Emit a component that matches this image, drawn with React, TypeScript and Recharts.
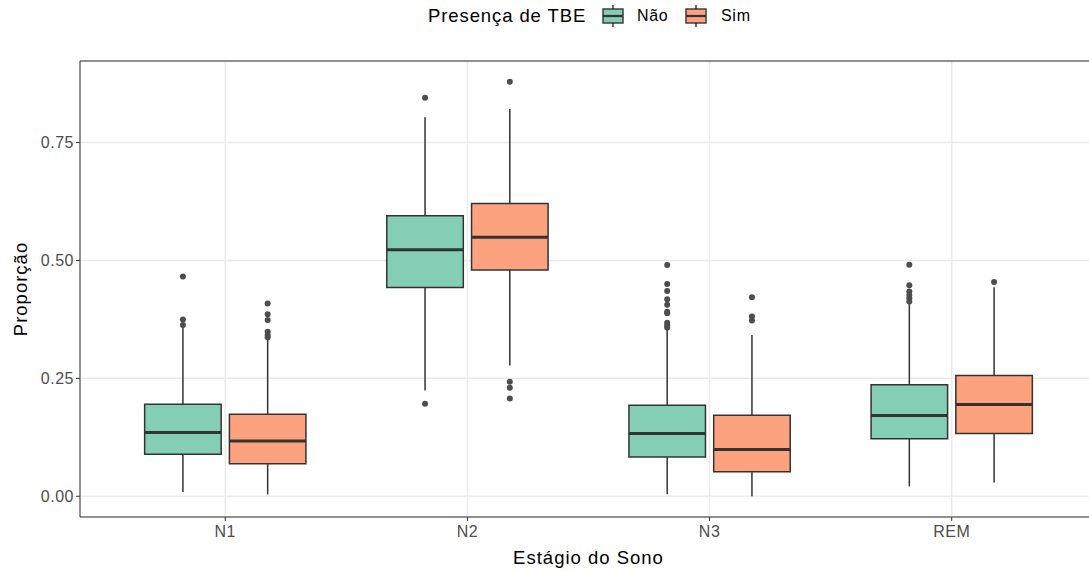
import { ComposedChart, XAxis, YAxis, CartesianGrid, ReferenceArea, ReferenceLine, Scatter, Label } from "recharts";

const categories = ["N1", "N2", "N3", "REM"];
const groups = ["Não", "Sim"];
const groupColors = ["#84CEB5", "#FCA27F"];
const groupOffsets = [-0.175, 0.175];
const yTicks = [0, 0.25, 0.5, 0.75];

// per category: N1, N2, N3, REM
const naoMin = [0.009, 0.224, 0.004, 0.021];
const naoQ1 = [0.089, 0.4425, 0.0835, 0.122];
const naoMedian = [0.135, 0.5225, 0.133, 0.171];
const naoQ3 = [0.195, 0.595, 0.193, 0.2365];
const naoMax = [0.36, 0.8035, 0.3526, 0.409];

const simMin = [0.004, 0.2775, 0.0, 0.029];
const simQ1 = [0.069, 0.48, 0.052, 0.133];
const simMedian = [0.117, 0.549, 0.099, 0.1947];
const simQ3 = [0.174, 0.621, 0.172, 0.2563];
const simMax = [0.336, 0.821, 0.342, 0.443];

const naoOutliers = [
  [0.466, 0.375, 0.363],
  [0.845, 0.196],
  [0.4906, 0.45, 0.435, 0.418, 0.406, 0.3915, 0.388, 0.368, 0.3625, 0.358],
  [0.491, 0.4475, 0.434, 0.427, 0.42, 0.413],
];
const simOutliers = [
  [0.409, 0.386, 0.374, 0.349, 0.342, 0.337],
  [0.879, 0.243, 0.23, 0.2075],
  [0.422, 0.381, 0.3725],
  [0.4545],
];

const stats = [
  { min: naoMin, q1: naoQ1, med: naoMedian, q3: naoQ3, max: naoMax, out: naoOutliers },
  { min: simMin, q1: simQ1, med: simMedian, q3: simQ3, max: simMax, out: simOutliers },
];

const HALF = 0.158;
const FONT = "'Liberation Sans', Arial, sans-serif";

const outlierPoints = stats.flatMap((s, g) =>
  s.out.flatMap((vals, i) => vals.map((y) => ({ x: i + 1 + groupOffsets[g], y })))
);

function LegendKey({ color }: { color: string }) {
  return (
    <svg width={22} height={22} style={{ display: "block" }}>
      <line x1={11} y1={0} x2={11} y2={22} stroke="#333" strokeWidth={1.4} />
      <rect x={1} y={4} width={20} height={14} fill={color} stroke="#333" strokeWidth={1.4} />
      <line x1={1} y1={11} x2={21} y2={11} stroke="#333" strokeWidth={2.2} />
    </svg>
  );
}

const legendKeyLeft = [602, 685];
const legendLabelLeft = [637, 721];

export default function App() {
  return (
    <div style={{ position: "absolute", left: 0, top: 0, width: 1089, height: 571, overflow: "hidden", background: "#fff", fontFamily: FONT }}>
      <div style={{ position: "absolute", top: 4, left: 428, fontSize: 18.5, letterSpacing: 0.9, color: "#000", lineHeight: "24px" }}>
        Presença de TBE
      </div>
      {groups.map((g, i) => (
        <div key={g}>
          <div style={{ position: "absolute", top: 5, left: legendKeyLeft[i] }}>
            <LegendKey color={groupColors[i]} />
          </div>
          <div style={{ position: "absolute", top: 5, left: legendLabelLeft[i], fontSize: 16, letterSpacing: 0.7, lineHeight: "22px", color: "#000" }}>
            {g}
          </div>
        </div>
      ))}
      <ComposedChart width={1100} height={571} margin={{ top: 61, right: 3, left: 0, bottom: 0 }} style={{ fontFamily: FONT }}>
        <CartesianGrid stroke="#EBEBEB" strokeWidth={1.5} />
        <XAxis
          type="number"
          dataKey="x"
          domain={[0.4, 4.6]}
          ticks={[1, 2, 3, 4]}
          allowDataOverflow
          tickFormatter={(v) => categories[v - 1]}
          axisLine={false}
          tickLine={{ stroke: "#333" }}
          tickSize={4}
          tickMargin={5}
          height={54}
          tick={{ fill: "#4D4D4D", fontSize: 16, letterSpacing: 0.5 }}
        >
          <Label value="Estágio do Sono" position="insideBottom" offset={7} style={{ fill: "#000", fontSize: 18.5, letterSpacing: 1 }} />
        </XAxis>
        <YAxis
          type="number"
          domain={[-0.044, 0.923]}
          ticks={yTicks}
          allowDataOverflow
          tickFormatter={(v) => v.toFixed(2)}
          axisLine={false}
          tickLine={{ stroke: "#333" }}
          tickSize={4}
          width={80}
          tick={{ fill: "#4D4D4D", fontSize: 16, letterSpacing: 0.5 }}
        >
          <Label value="Proporção" angle={-90} position="insideLeft" offset={20} style={{ fill: "#000", fontSize: 18.5, letterSpacing: 1, textAnchor: "middle" }} />
        </YAxis>
        {stats.map((s, g) =>
          categories.map((c, i) => {
            const cx = i + 1 + groupOffsets[g];
            return [
              <ReferenceLine key={`wu-${g}-${c}`} segment={[{ x: cx, y: s.q3[i] }, { x: cx, y: s.max[i] }]} stroke="#333" strokeWidth={1.5} />,
              <ReferenceLine key={`wl-${g}-${c}`} segment={[{ x: cx, y: s.min[i] }, { x: cx, y: s.q1[i] }]} stroke="#333" strokeWidth={1.5} />,
              <ReferenceArea
                key={`b-${g}-${c}`}
                x1={cx - HALF}
                x2={cx + HALF}
                y1={s.q1[i]}
                y2={s.q3[i]}
                fill={groupColors[g]}
                fillOpacity={1}
                stroke="#333"
                strokeWidth={1.5}
              />,
              <ReferenceLine key={`m-${g}-${c}`} segment={[{ x: cx - HALF, y: s.med[i] }, { x: cx + HALF, y: s.med[i] }]} stroke="#333" strokeWidth={3} />,
            ];
          })
        )}
        <Scatter
          data={outlierPoints}
          dataKey="y"
          isAnimationActive={false}
          shape={(p: any) => <circle cx={p.cx} cy={p.cy} r={3} fill="#4D4D4D" />}
        />
        <ReferenceArea x1={0.4} x2={4.6} y1={-0.044} y2={0.923} fill="none" fillOpacity={0} stroke="#333" strokeWidth={1} />
      </ComposedChart>
    </div>
  );
}
